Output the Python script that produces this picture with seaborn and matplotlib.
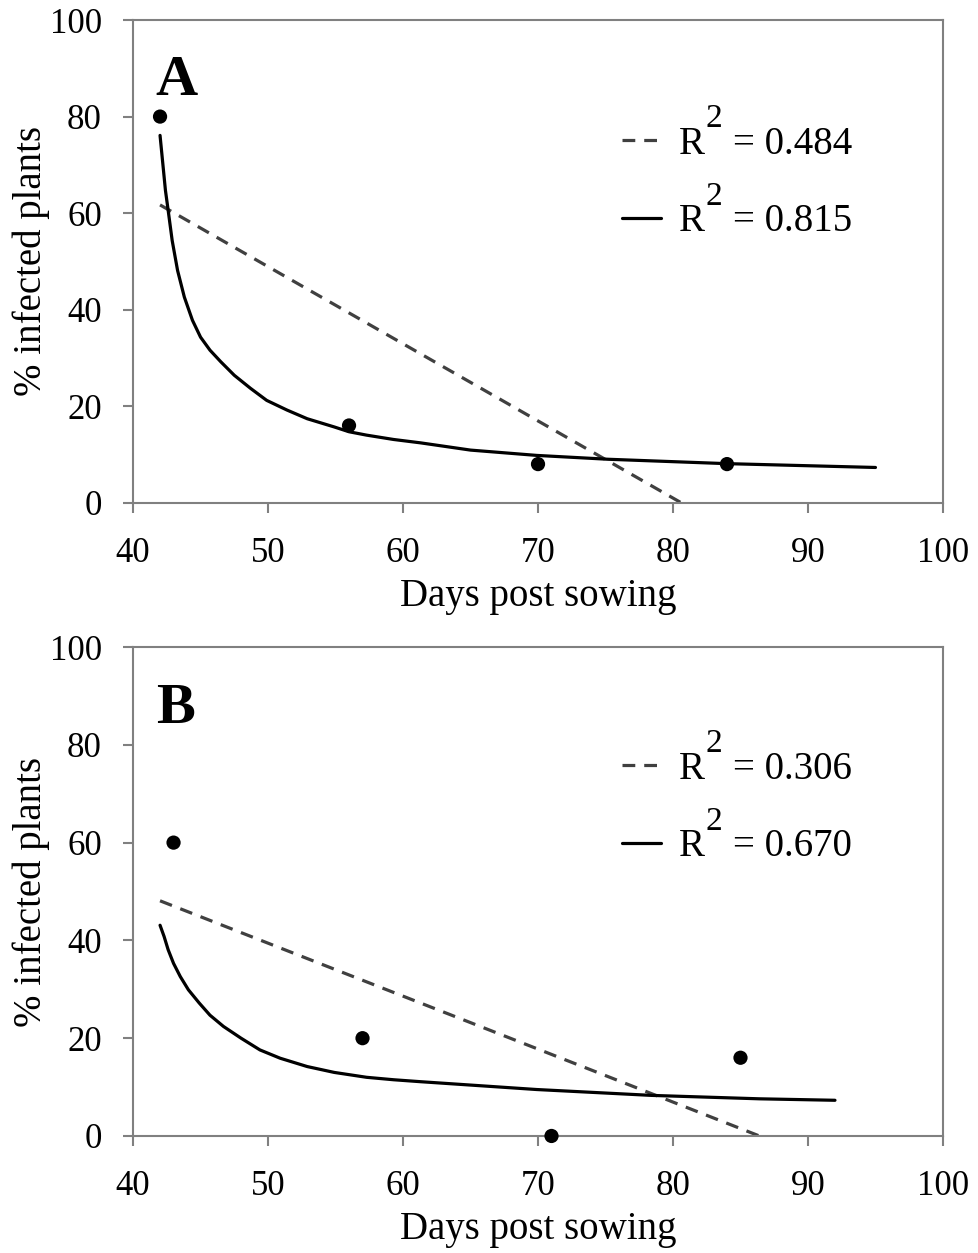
import matplotlib
matplotlib.use('Agg')
import matplotlib.pyplot as plt
import seaborn as sns

# observed points
days_a = [42, 56, 70, 84]
infected_a = [80, 16, 8, 8]
days_b = [43, 57, 71, 85]
infected_b = [60, 20, 0, 16]

# linear fits
lin_x_a = [42, 80.6]
lin_y_a = [61.7, 0]
lin_x_b = [42, 86.4]
lin_y_b = [48.1, 0]

# non-linear fits
curve_x_a = [42.0, 42.4, 42.6, 42.9, 43.3, 43.8, 44.4, 45.0, 45.7, 46.5, 47.5, 48.7, 49.9,
             51.4, 52.9, 54.9, 56.0, 57.3, 59.3, 61.3, 65.0, 69.9, 75.2, 83.9, 95.0]
curve_y_a = [76.1, 64.7, 60.6, 54.3, 48.1, 42.6, 37.8, 34.3, 31.6, 29.2, 26.4, 23.7, 21.2,
             19.2, 17.4, 15.7, 14.7, 14.0, 13.1, 12.4, 10.9, 9.8, 9.0, 8.1, 7.3]
curve_x_b = [42.0, 42.3, 42.6, 43.0, 43.5, 44.1, 44.9, 45.7, 46.7, 48.0, 49.4, 50.9, 52.9,
             54.9, 57.3, 59.3, 61.3, 69.9, 78.4, 86.4, 92.0]
curve_y_b = [43.1, 40.8, 38.1, 35.3, 32.6, 29.9, 27.2, 24.7, 22.4, 20.0, 17.6, 15.9, 14.2,
             13.0, 12.0, 11.5, 11.1, 9.5, 8.3, 7.6, 7.3]

r2_lin = ['0.484', '0.306']
r2_curve = ['0.815', '0.670']
panel_labels = ['A', 'B']

sns.set_style('white')
plt.rcParams['font.family'] = ['Liberation Serif', 'DejaVu Serif']
plt.rcParams['text.color'] = 'black'
plt.rcParams['axes.labelcolor'] = 'black'
plt.rcParams['xtick.labelcolor'] = 'black'
plt.rcParams['ytick.labelcolor'] = 'black'

fig = plt.figure(figsize=(9.79, 12.53), dpi=100)
ax_a = fig.add_axes([0.1359, 0.5988, 0.8273, 0.3852])
ax_b = fig.add_axes([0.1359, 0.0934, 0.8273, 0.3902])

panels = [
    (ax_a, days_a, infected_a, lin_x_a, lin_y_a, curve_x_a, curve_y_a, 0.781),
    (ax_b, days_b, infected_b, lin_x_b, lin_y_b, curve_x_b, curve_y_b, 0.788),
]

for i, (ax, dx, dy, lx, ly, cx, cy, leg_y) in enumerate(panels):
    sns.lineplot(x=lx, y=ly, ax=ax, color='#404040', lw=2.3,
                 linestyle=(0, (4.0, 2.8)), label='R')
    sns.lineplot(x=cx, y=cy, ax=ax, color='black', lw=2.3, sort=False,
                 label='R')
    sns.scatterplot(x=dx, y=dy, ax=ax, color='black', s=105, edgecolor='none',
                    zorder=5, clip_on=False)

    ax.set_xlim(40, 100)
    ax.set_ylim(0, 100)
    ax.set_xticks(range(40, 101, 10))
    ax.set_yticks(range(0, 101, 20))
    ax.set_xlabel('Days post sowing', fontsize=28, labelpad=6)
    ax.set_ylabel('% infected plants', fontsize=28, labelpad=0)
    ax.tick_params(direction='out', length=7.5, width=1.5, color='#808080',
                   labelsize=25, left=True, bottom=True)
    ax.tick_params(axis='x', pad=17)
    ax.tick_params(axis='y', pad=15)
    for sp in ax.spines.values():
        sp.set_color('#808080')
        sp.set_linewidth(1.5)

    ax.text(0.028, 0.845, panel_labels[i], transform=ax.transAxes,
            fontsize=42, fontweight='bold', va='baseline', ha='left')

    leg = ax.legend(loc='upper left', bbox_to_anchor=(0.604, leg_y),
                    frameon=False, fontsize=28, handlelength=1.0,
                    handletextpad=0.45, labelspacing=1.04,
                    borderpad=0, borderaxespad=0)
    # large Excel-style superscript and the value, chained after each "R"
    for t, val in zip(leg.get_texts(), [r2_lin[i], r2_curve[i]]):
        ax.annotate('2', xy=(1, 0), xycoords=t, xytext=(0.7, 25.4),
                    textcoords='offset points', fontsize=24,
                    ha='left', va='baseline', zorder=10)
        ax.annotate('= ' + val, xy=(1, 0), xycoords=t, xytext=(20.5, 0),
                    textcoords='offset points', fontsize=28,
                    ha='left', va='bottom', zorder=10)

fig.savefig('out.png', dpi=100)
